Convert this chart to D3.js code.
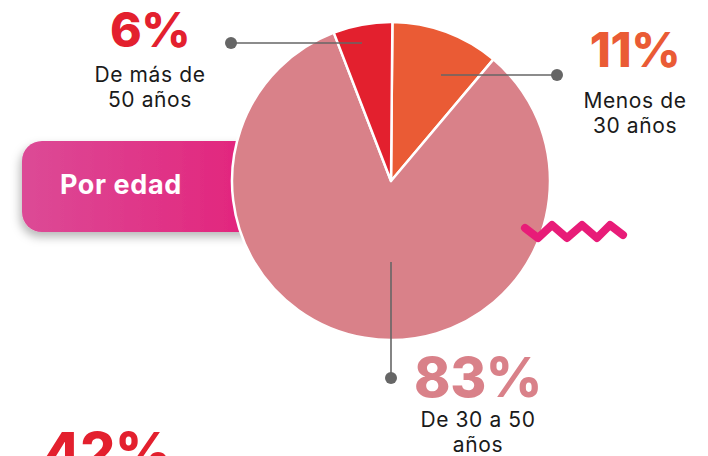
<!DOCTYPE html>
<html><head><meta charset="utf-8">
<script src="https://cdn.jsdelivr.net/npm/d3@7"></script>
<style>html,body{margin:0;padding:0;background:#fff;overflow:hidden}</style>
</head><body>
<svg id="chart" width="708" height="456"></svg>
<script>
// ---- data ----
const categories = ["Menos de 30 años", "De 30 a 50 años", "De más de 50 años"];
const values = [11, 83, 6];
const labelLines = [["Menos de", "30 años"], ["De 30 a 50", "años"], ["De más de", "50 años"]];
const colors = ["#EA5B35", "#D98189", "#E3202E"];
const title = "Por edad";
const otherValue = 42;

// ---- layout ----
const cx = 391, cy = 181, R = 159;
const svg = d3.select("#chart");
const defs = svg.append("defs");
const grad = defs.append("linearGradient").attr("id", "btn").attr("x1", "0").attr("x2", "1");
grad.append("stop").attr("offset", "0").attr("stop-color", "#DC4A96");
grad.append("stop").attr("offset", "1").attr("stop-color", "#E3217A");
const f = defs.append("filter").attr("id", "sh").attr("x", "-20%").attr("y", "-30%").attr("width", "140%").attr("height", "170%");
f.append("feDropShadow").attr("dx", -2).attr("dy", 5).attr("stdDeviation", 5).attr("flood-color", "#000").attr("flood-opacity", 0.28);

// button
svg.append("rect").attr("x", 22).attr("y", 141).attr("width", 250).attr("height", 91).attr("rx", 20)
  .attr("fill", "url(#btn)").attr("filter", "url(#sh)");
svg.append("text").attr("x", 60).attr("y", 194).text(title)
  .attr("font-family", "Inter, 'Open Sans', sans-serif").attr("font-weight", 700).attr("font-size", 27)
  .attr("letter-spacing", 0.6).attr("fill", "#fff");

// pie
const deg = Math.PI / 180;
const pie = d3.pie().sort(null).value(d => d).startAngle(0.5 * deg).endAngle(360.5 * deg);
const arcs = pie(values);
const arc = d3.arc().innerRadius(0).outerRadius(R);
const g = svg.append("g").attr("transform", `translate(${cx},${cy})`);
g.selectAll("path").data(arcs).join("path")
  .attr("d", arc).attr("fill", (d, i) => colors[i])
  .attr("stroke", "#fff").attr("stroke-width", 2.5).attr("stroke-linejoin", "round");

// wave decoration
const wave = [[525,228],[538,238],[552,225],[567,238],[582,225],[597,238],[610,225],[623,235]];
svg.append("path").attr("d", d3.line()(wave)).attr("fill", "none")
  .attr("stroke", "#E81C78").attr("stroke-width", 8).attr("stroke-linecap", "round").attr("stroke-linejoin", "round");

// leaders (annotation layout)
const leaders = [
  {from: [441, 75], to: [557, 75]},
  {from: [391, 262], to: [391, 378]},
  {from: [362, 43], to: [231, 43]}
];
leaders.forEach(L => {
  svg.append("line").attr("x1", L.from[0]).attr("y1", L.from[1]).attr("x2", L.to[0]).attr("y2", L.to[1])
    .attr("stroke", "#666").attr("stroke-width", 1.6);
  svg.append("circle").attr("cx", L.to[0]).attr("cy", L.to[1]).attr("r", 6).attr("fill", "#666");
});

// labels
const labelPos = [
  {x: 635, y: 67, fs: 48, l1: 108},
  {x: 478, y: 397, fs: 55, l1: 427},
  {x: 150, y: 47, fs: 48, l1: 82}
];
values.forEach((v, i) => {
  const p = labelPos[i];
  svg.append("text").attr("x", p.x).attr("y", p.y).attr("text-anchor", "middle")
    .attr("font-family", "Inter, 'Open Sans', sans-serif").attr("font-weight", 800)
    .attr("font-size", p.fs).attr("letter-spacing", -0.5).attr("fill", colors[i]).text(v + "%");
  labelLines[i].forEach((t, j) => {
    svg.append("text").attr("x", p.x).attr("y", p.l1 + j * 25).attr("text-anchor", "middle")
      .attr("font-family", "Inter, 'Open Sans', sans-serif").attr("font-weight", 400)
      .attr("font-size", 21).attr("letter-spacing", 0.6).attr("fill", "#1a1a1a").text(t);
  });
});

// partially visible next figure
svg.append("text").attr("x", 43).attr("y", 472)
  .attr("font-family", "Inter, 'Open Sans', sans-serif").attr("font-weight", 800)
  .attr("font-size", 55).attr("letter-spacing", -0.5).attr("fill", "#E3202E").text(otherValue + "%");
</script>
</body></html>
